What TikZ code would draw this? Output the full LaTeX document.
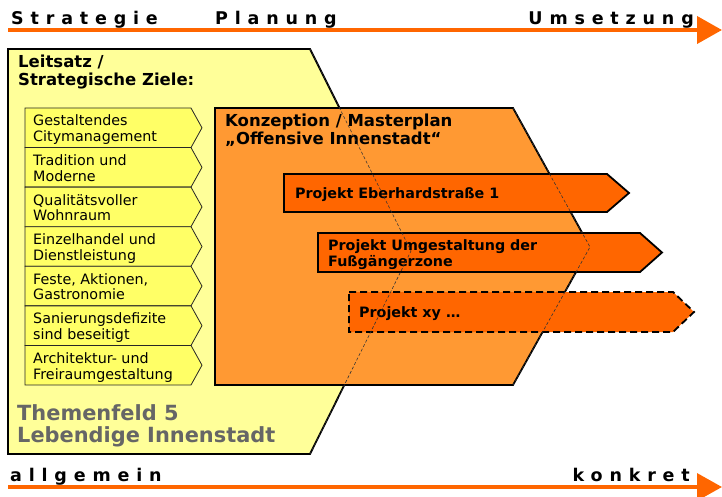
\documentclass[tikz,border=0pt]{standalone}
\usepackage{fontspec}
\setmainfont{DejaVu Sans}
\usetikzlibrary{arrows.meta}

\definecolor{fieldyellow}{HTML}{FFFF99}
\definecolor{goalyellow}{HTML}{FFFF66}
\definecolor{planorange}{HTML}{FF9933}
\definecolor{projorange}{HTML}{FF6600}
\definecolor{themegray}{HTML}{666666}

% multi-line nodes below are anchored at the baseline of their last line
\tikzset{
  axisline/.style={draw=projorange, line width=4pt,
    -{Triangle[length=25pt,width=27pt]}},
  axisword/.style={inner sep=0pt, anchor=base west,
    font=\fontsize{17.5}{19}\selectfont\bfseries\addfontfeature{LetterSpace=39}},
  bigshape/.style={draw=black, line width=1.8pt, line join=miter},
  goalshape/.style={fill=goalyellow, draw=black!85, line width=0.8pt},
  goaltext/.style={inner sep=0pt, anchor=base west, align=left,
    font=\fontsize{14.3}{15.7}\selectfont},
  projshape/.style={fill=projorange, draw=black, line width=1.8pt},
  projtext/.style={inner sep=0pt, anchor=base west, align=left,
    font=\fontsize{14.3}{16}\selectfont\bfseries},
  headtext/.style={inner sep=0pt, anchor=base west, align=left,
    font=\fontsize{16.5}{18}\selectfont\bfseries},
  hiddenedge/.style={draw=black!80, line width=0.6pt, dash pattern=on 3pt off 2pt},
}

\begin{document}
\begin{tikzpicture}[x=1pt,y=-1pt]
\useasboundingbox (0,0) rectangle (722,497);

% axes
\coordinate (topL) at (8,30);
\coordinate (topR) at (722,30);
\coordinate (botL) at (8,487);
\coordinate (botR) at (722,487);
\draw[axisline] (topL) -- (topR);
\draw[axisline, line width=3.5pt] (botL) -- (botR);
\node[axisword] (wStrat) at (11,25) {Strategie};
\node[axisword] (wPlan) at (215,25) {Planung};
\node[axisword, anchor=base east] (wUms) at (694,25) {Umsetzung};
\node[axisword] (wAllg) at (10,481.5) {allgemein};
\node[axisword, anchor=base east] (wKonk) at (690,481) {konkret};

% field outline (yellow)
\path[bigshape, fill=fieldyellow]
  (8,49) -- (310,49) -- (411,251) -- (310,454) -- (8,454) -- cycle;
\node[headtext] (leit) at (18,86) {Leitsatz /\\Strategische Ziele:};
\node[headtext, text=themegray, font=\fontsize{20.9}{22}\selectfont\bfseries]
  (theme) at (17,442) {Themenfeld 5\\Lebendige Innenstadt};

% goal chevrons
\foreach \i/\txt in {0/{Gestaltendes\\Citymanagement},
                     1/{Tradition und\\Moderne},
                     2/{Qualitätsvoller\\Wohnraum},
                     3/{Einzelhandel und\\Dienstleistung},
                     4/{Feste, Aktionen,\\Gastronomie},
                     5/{Sanierungsdefizite\\sind beseitigt},
                     6/{Architektur- und\\Freiraumgestaltung}}{
  \pgfmathsetmacro{\gt}{108+\i*39.57}
  \pgfmathsetmacro{\gb}{\gt+39.57}
  \pgfmathsetmacro{\gm}{\gt+19.785}
  \path[goalshape] (25,\gt) -- (191,\gt) -- (202,\gm) -- (191,\gb) -- (25,\gb) -- cycle;
  \node[goaltext] (goal\i) at (33,\gt+33.7) {\txt};
}

% master plan chevron (orange)
\path[bigshape, fill=planorange]
  (215,108) -- (513,108) -- (590,247) -- (513,385) -- (215,385) -- cycle;
\node[headtext] (konz) at (225,145) {Konzeption / Masterplan\\„Offensive Innenstadt“};

% projects
\path[projshape] (284,174) -- (607,174) -- (629,193) -- (607,212) -- (284,212) -- cycle;
\node[projtext] (p1) at (295,198) {Projekt Eberhardstraße 1};
\path[projshape] (318,233) -- (640,233) -- (662,252.5) -- (640,272) -- (318,272) -- cycle;
\node[projtext] (p2) at (328,266) {Projekt Umgestaltung der\\Fußgängerzone};
\path[projshape, dash pattern=on 7pt off 4pt]
  (349,292) -- (673,292) -- (694,312) -- (673,332) -- (349,332) -- cycle;
\node[projtext] (p3) at (359,317) {Projekt xy …};

% hidden edges of the overlapped shapes
\draw[hiddenedge] (310,49) -- (411,251) -- (310,454);
\draw[hiddenedge] (513,108) -- (590,247) -- (513,385);
\end{tikzpicture}
\end{document}
